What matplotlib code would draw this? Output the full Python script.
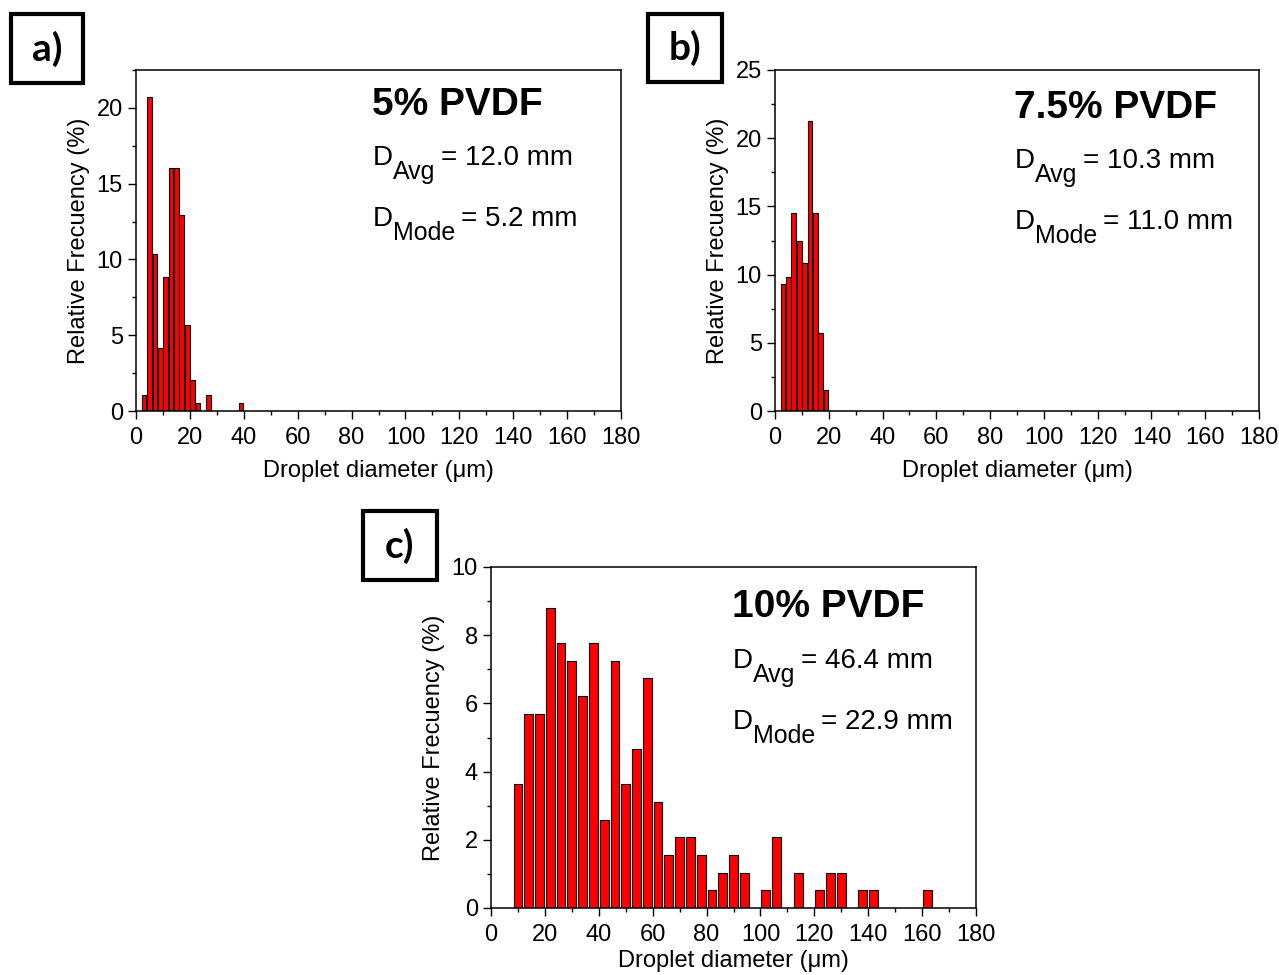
import matplotlib
matplotlib.use("Agg")
import matplotlib.pyplot as plt
from matplotlib.patches import Rectangle
from matplotlib.ticker import MultipleLocator

plt.rcParams['font.family'] = ['Liberation Sans', 'DejaVu Sans']

# ---------------- data ----------------
a_centers = [3, 5, 7, 9, 11, 13, 15, 17, 19, 21, 23, 27, 39]
a_values = [1.04, 20.73, 10.36, 4.15, 8.81, 16.06, 16.06, 12.95, 5.70, 2.07, 0.52, 1.04, 0.52]

b_centers = [3, 5, 7, 9, 11, 13, 15, 17, 19]
b_values = [9.33, 9.84, 14.51, 12.44, 10.88, 21.24, 14.51, 5.70, 1.55]

c_centers = [10, 14, 18, 22, 26, 30, 34, 38, 42, 46, 50, 54, 58, 62, 66, 70, 74, 78,
             82, 86, 90, 94, 102, 106, 114, 122, 126, 130, 138, 142, 162]
c_values = [3.63, 5.70, 5.70, 8.81, 7.77, 7.25, 6.22, 7.77, 2.59, 7.25, 3.63, 4.66, 6.74,
            3.11, 1.55, 2.07, 2.07, 1.55, 0.52, 1.04, 1.55, 1.04, 0.52, 2.07, 1.04, 0.52,
            1.04, 1.04, 0.52, 0.52, 0.52]

titles = ["5% PVDF", "7.5% PVDF", "10% PVDF"]
avg_texts = ["= 12.0 mm", "= 10.3 mm", "= 46.4 mm"]
mode_texts = ["= 5.2 mm", "= 11.0 mm", "= 22.9 mm"]
panel_labels = ["a)", "b)", "c)"]
xlabel = "Droplet diameter (\u03bcm)"
ylabel = "Relative Frecuency (%)"

W, H = 1279, 975
fig = plt.figure(figsize=(W / 100, H / 100), dpi=100)


def px_axes(l, r, t, b):
    return fig.add_axes([l / W, (H - b) / H, (r - l) / W, (b - t) / H])


ax_a = px_axes(136, 621, 70, 411)
ax_b = px_axes(775, 1259, 70, 411)
ax_c = px_axes(491, 976, 567, 908)

specs = [
    (ax_a, a_centers, a_values, 1.75, 22.5, 5, 2.5, 8),
    (ax_b, b_centers, b_values, 1.75, 25, 5, 2.5, 8),
    (ax_c, c_centers, c_values, 3.25, 10, 2, 1, 3),
]

text_pos = [(0.487, 0.868, 0.721, 0.543), (0.494, 0.859, 0.713, 0.534), (0.497, 0.853, 0.704, 0.525)]


def dline(ax, x, y, sub, rest):
    t1 = ax.text(x, y, "D", transform=ax.transAxes, fontsize=20, va="baseline", ha="left")
    t2 = ax.annotate(sub, xy=(1, y), xycoords=(t1, "axes fraction"), xytext=(0, -10),
                     textcoords="offset points", fontsize=18, va="baseline", ha="left")
    ax.annotate(rest, xy=(1, y), xycoords=(t2, "axes fraction"), xytext=(4, 0),
                textcoords="offset points", fontsize=20, va="baseline", ha="left")


for i, (ax, cen, val, bw, ymax, ymaj, ymin, xlp) in enumerate(specs):
    ax.bar(cen, val, width=bw, color="#ff0000", edgecolor="black", linewidth=0.8, zorder=2)
    ax.set_xlim(0, 180)
    ax.set_ylim(0, ymax)
    ax.xaxis.set_major_locator(MultipleLocator(20))
    ax.xaxis.set_minor_locator(MultipleLocator(10))
    ax.yaxis.set_major_locator(MultipleLocator(ymaj))
    ax.yaxis.set_minor_locator(MultipleLocator(ymin))
    ax.tick_params(which="major", direction="out", length=5.5, width=1.0, labelsize=17)
    ax.tick_params(axis="x", which="major", pad=6)
    ax.tick_params(axis="y", which="major", pad=4)
    ax.tick_params(which="minor", direction="out", length=3, width=1.0)
    for s in ax.spines.values():
        s.set_linewidth(1.1)
    ax.set_xlabel(xlabel, fontsize=17, labelpad=xlp)
    ax.set_ylabel(ylabel, fontsize=17, labelpad=5)
    tx, ty, ya, ym = text_pos[i]
    ax.text(tx, ty, titles[i], transform=ax.transAxes, fontsize=28, fontweight="bold",
            va="baseline", ha="left")
    dline(ax, tx + 0.002, ya, "Avg", avg_texts[i])
    dline(ax, tx + 0.002, ym, "Mode", mode_texts[i])

boxes = [(11, 83, 14, 83), (648, 722, 14, 82), (363, 437, 511, 580)]
for lab, (l, r, t, b) in zip(panel_labels, boxes):
    rect = Rectangle((l / W, (H - b) / H), (r - l) / W, (b - t) / H, transform=fig.transFigure,
                     fill=False, edgecolor="black", linewidth=3.0)
    fig.patches.append(rect)
    fig.text((l + r) / 2 / W, (H - (t + b) / 2) / H, lab, fontsize=28, fontweight="bold",
             family=["Lato", "DejaVu Sans"], ha="center", va="center")

fig.savefig("out.png", dpi=100)
